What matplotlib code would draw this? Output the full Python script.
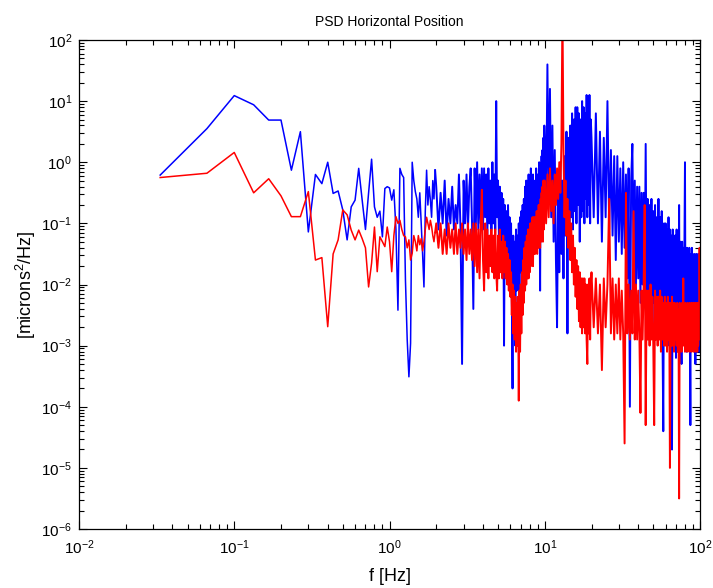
import matplotlib
matplotlib.use("Agg")
import matplotlib.pyplot as plt
import numpy as np
from matplotlib.ticker import LogLocator, NullFormatter

# ── Data ──────────────────────────────────────────────────
FREQ_STEP = 1 / 30  # Hz per PSD bin

# bin indices of the plotted points (dense region thinned out)
BINS_LOW = np.arange(1, 60)
BINS_MID = np.arange(60, 300, 2)
BINS_PEAK = np.arange(300, 600, 6)
BINS_HIGH = np.arange(600, 3001, 20)

# log10 PSD values, blue trace
BLUE_LOW = [
    -0.21, 0.55, 1.09, 0.94, 0.69, 0.69, -0.13, 0.50, -1.14, -0.2,
    -0.35, 0.0, -0.51, -0.47, -0.78, -1.27, -0.73, -0.62, -0.1, -0.62,
    -1.1, -0.5, 0.05, -0.73, -0.9, -0.8, -1.22, -0.43, -0.4, -0.42,
    -0.62, -0.45, -1.1, -2.42, -0.1, -0.2, -0.25, -1.93, -2.9, -3.51,
    -2.96, 0.0, -0.3, -0.48, -0.6, -0.9, -0.5, -1.0, -1.5, -2.04,
    -0.8, -0.13, -0.7, -0.4, -0.62, -0.9, -0.3, -0.6, -0.13,
]
BLUE_MID = [
    -0.4, -1.1, -0.5, -1.0, -0.3, -1.2, -0.6, -1.0, -0.4, -1.1,
    -0.7, -1.0, -0.2, -1.1, -3.3, -0.3, -1.0, -0.2, -1.1, -0.4,
    -0.1, -1.0, -2.4, -0.1, -1.0, 0.0, -1.1, -0.2, -1.0, -0.1,
    -1.1, -0.1, -0.9, -0.2, -1.2, -0.1, -1.0, -0.3, -1.1, 0.0,
    -1.0, -0.2, -1.1, 1.0, -0.9, -0.3, -1.2, -0.4, -1.3, -0.5,
    -1.4, -0.6, -3.0, -0.7, -1.5, -0.8, -1.6, -0.7, -1.5, -0.9,
    -1.7, -1.0, -2.2, -3.7, -1.2, -2.0, -1.3, -3.0, -1.1, -2.1,
    -1.2, -2.0, -1.0, -2.1, -0.9, -1.8, -0.8, -1.7, -0.7, -1.5,
    -0.6, -1.4, -0.4, -1.3, -0.3, -1.2, -0.5, -1.4, -0.2, -1.2,
    -0.4, -1.3, -0.1, -1.1, -0.3, -1.2, -0.2, -1.3, -0.4, -1.0,
    -0.3, -1.2, -0.1, -1.1, -0.2, -1.0, -0.3, -1.2, 0.0, -0.9,
    -2.1, -0.2, -1.0, 0.1, -0.9, 0.2, -1.1, 0.4, -0.8, 0.6,
]
BLUE_PEAK = [
    0.3, -0.8, 1.6, -0.5, 1.2, -0.9, 0.6, -1.3, 0.2, -1.6,
    -2.7, -0.4, -1.8, 0.0, -1.5, -0.3, -1.9, 0.1, -1.2, 0.5,
    -2.8, 0.4, -1.0, 0.6, -0.9, 0.8, -1.1, 0.7, -0.8, 0.9,
    -1.0, 0.9, -0.7, 0.8, -1.3, 0.7, -0.9, 1.0, -0.8, 0.9,
    -1.0, 0.8, -0.6, 1.1, -0.9, 0.8, -0.7, 1.1, -1.0, 0.7,
]
BLUE_HIGH = [
    0.4, -0.9, 0.8, -1.0, 0.5, -1.3, 0.4, -0.9, 1.0, -1.1,
    0.2, -1.2, 0.1, -1.6, 0.1, -1.3, -0.1, -1.5, 0.0, -1.4,
    -0.2, -1.9, -0.1, -4.0, -0.3, 0.3, -1.7, -0.3, -2.0, -0.4,
    -1.9, -0.4, -2.3, -0.5, -2.0, -0.5, -2.1, 0.3, -2.2, -0.6,
    -2.4, -0.7, -2.1, -0.6, -2.8, -0.8, -2.3, -0.7, -2.4, -0.9,
    -2.5, -0.6, -2.6, -0.9, -2.4, -0.8, -2.9, -4.4, -1.0, -2.6,
    -1.0, -2.7, -1.1, -2.5, -0.9, -3.0, -1.1, -2.6, -1.2, -4.7,
    -1.1, -2.8, -1.2, -2.7, -1.2, -3.2, -1.1, -2.8, -1.3, -2.9,
    -0.7, -2.8, -1.3, -2.7, -3.3, -1.3, -2.9, -1.4, -2.8, -1.3,
    0.0, -2.9, -1.4, -3.1, -1.4, -2.8, -1.5, -3.0, -1.4, -2.9,
    -4.3, -1.5, -2.9, -1.4, -3.0, -1.5, -2.9, -1.6, -3.0, -1.5,
    -3.3, -1.6, -2.9, -1.5, -3.1, -1.6, -2.9, -1.5, -3.1, -1.6, -2.9,
]

# log10 PSD values, red trace
RED_LOW = [
    -0.25, -0.18, 0.16, -0.50, -0.27, -0.55, -0.89, -0.89, -0.48, -1.6,
    -1.56, -2.69, -1.5, -1.27, -0.78, -0.86, -1.11, -1.27, -1.11, -1.25,
    -1.4, -2.04, -1.65, -1.06, -1.79, -1.22, -1.3, -1.38, -1.06, -1.3,
    -1.79, -1.2, -0.89, -1.0, -0.95, -1.1, -1.2, -1.22, -1.4, -1.27,
    -1.6, -1.49, -1.2, -1.3, -1.45, -1.2, -1.35, -1.25, -1.45, -1.3,
    -1.1, -0.9, -1.0, -1.1, -0.95, -1.05, -1.2, -1.3, -1.15,
]
RED_MID = [
    -1.0, -1.4, -1.0, -1.5, -1.1, -1.5, -1.0, -1.4, -1.1, -1.5,
    -1.0, -1.5, -1.1, -1.4, -1.0, -1.5, -1.1, -1.6, -1.0, -1.5,
    -1.1, -1.6, -1.0, -1.7, -1.0, -1.8, -1.1, -1.9, -1.0, -0.45,
    -1.6, -2.1, -1.0, -1.8, -1.1, -1.9, -1.2, -1.7, -1.1, -1.8,
    -1.2, -1.9, -1.1, -1.8, -2.1, -1.2, -1.9, -1.1, -1.8, -1.3,
    -1.9, -1.2, -1.8, -1.3, -1.9, -1.4, -2.0, -1.5, -2.1, -1.6,
    -2.2, -1.8, -2.5, -2.0, -2.8, -2.1, -2.9, -2.2, -3.1, -2.3,
    -3.0, -2.2, -3.9, -2.1, -3.1, -2.0, -2.8, -1.8, -2.5, -1.6,
    -2.3, -1.4, -2.1, -1.3, -2.0, -1.2, -1.9, -1.1, -1.9, -1.1,
    -1.8, -1.0, -1.7, -1.0, -1.6, -0.9, -1.7, -0.9, -1.5, -0.9,
    -1.5, -0.9, -1.4, -0.8, -1.5, -0.8, -1.4, -0.7, -1.3, -0.7,
    -1.4, -0.6, -1.3, -0.5, -1.2, -0.4, -1.3, -0.3, -1.1, -0.3,
]
RED_PEAK = [
    -0.3, -1.0, -0.2, -0.9, -0.1, -0.8, -0.3, -1.0, -0.2, -0.7,
    -0.1, -0.6, 0.0, -0.5, 0.3, 2.5, 0.2, -0.9, -0.3, -1.2,
    -0.6, -1.4, -0.8, -1.6, -1.0, -1.8, -1.2, -2.0, -1.4, -2.2,
    -1.6, -2.4, -1.7, -2.6, -1.8, -2.7, -1.9, -2.8, -1.9, -2.7,
    -1.9, -2.8, -2.0, -2.9, -3.3, -2.0, -2.8, -1.9, -2.9, -2.0,
]
RED_HIGH = [
    -1.8, -2.7, -1.9, -2.8, -2.0, -3.4, -1.9, -2.7, -2.0, -0.6,
    -2.8, -1.9, -2.9, -2.0, -2.8, -1.9, -2.9, -2.1, -2.8, -4.6,
    -0.5, -2.8, -2.0, -2.9, -2.1, -2.8, -0.8, -2.9, -2.0, -2.9,
    -2.1, -2.8, -4.1, -2.1, -2.9, -2.0, -0.7, -4.3, -2.1, -2.9,
    -2.1, -3.0, -2.0, -2.9, -2.2, -3.0, -4.3, -2.1, -2.9, -2.2,
    -3.0, -2.2, -2.9, -2.1, -3.1, -2.2, -2.9, -2.3, -3.0, -2.2,
    -3.0, -2.3, -3.1, -2.2, -2.9, -2.3, -5.0, -2.3, -3.0, -2.2,
    -3.0, -2.3, -3.1, -2.3, -2.9, -2.4, -3.0, -2.3, -3.1, -2.4,
    -5.5, -2.3, -3.0, -2.4, -3.1, -2.3, -2.9, -1.9, -3.0, -2.4,
    -3.1, -2.3, -3.0, -2.4, -3.1, -2.3, -3.0, -2.4, -3.1, -2.3,
    -3.0, -2.4, -3.1, -2.3, -3.0, -2.4, -3.1, -2.3, -3.0, -2.4,
    -3.1, -2.3, -3.0, -2.4, -3.1, -2.3, -3.0, -2.4, -2.9, -1.4, -2.5,
]

# ── Style ─────────────────────────────────────────────────
plt.rcParams["font.family"] = ["Liberation Sans", "DejaVu Sans"]
plt.rcParams["font.size"] = 10
plt.rcParams["mathtext.fontset"] = "custom"
plt.rcParams["mathtext.rm"] = "Liberation Sans"


def build_trace(*segments):
    vals = np.concatenate([np.asarray(s, dtype=float) for s in segments])
    return 10.0 ** vals


freqs = np.concatenate([BINS_LOW, BINS_MID, BINS_PEAK, BINS_HIGH]) * FREQ_STEP
psd_blue = build_trace(BLUE_LOW, BLUE_MID, BLUE_PEAK, BLUE_HIGH)
psd_red = build_trace(RED_LOW, RED_MID, RED_PEAK, RED_HIGH)

# sparse low-frequency part drawn thinner than the dense part
split = len(BINS_LOW) - 1

fig = plt.figure(figsize=(7.13, 5.88), dpi=100)
ax = fig.add_axes([0.1108, 0.1003, 0.8710, 0.8317])

for psd, color in [(psd_blue, "#0000ff"), (psd_red, "#ff0000")]:
    ax.loglog(freqs[:split + 1], psd[:split + 1], color=color, linewidth=1.1)
    ax.loglog(freqs[split:], psd[split:], color=color, linewidth=1.4)

ax.set_xlim(1e-2, 1e2)
ax.set_ylim(1e-6, 1e2)

ax.xaxis.set_major_locator(LogLocator(base=10, numticks=20))
ax.yaxis.set_major_locator(LogLocator(base=10, numticks=20))
ax.xaxis.set_minor_locator(LogLocator(base=10, subs=np.arange(2, 10), numticks=100))
ax.yaxis.set_minor_locator(LogLocator(base=10, subs=np.arange(2, 10), numticks=100))
ax.xaxis.set_minor_formatter(NullFormatter())
ax.yaxis.set_minor_formatter(NullFormatter())

ax.tick_params(which="both", direction="in", top=True, right=True, width=0.8, colors="black")
ax.tick_params(which="major", length=6)
ax.tick_params(which="minor", length=3.5)
ax.tick_params(axis="x", which="major", pad=7, labelsize=11)
ax.tick_params(axis="y", which="major", pad=5, labelsize=11)
for spine in ax.spines.values():
    spine.set_linewidth(0.9)

ax.set_title("PSD Horizontal Position", fontsize=10, pad=10)
ax.set_xlabel("f [Hz]", fontsize=13, labelpad=8)
ax.set_ylabel(r"[microns$^{\mathdefault{2}}$/Hz]", fontsize=13, labelpad=2)

fig.savefig("out.png", dpi=100, facecolor="white")
